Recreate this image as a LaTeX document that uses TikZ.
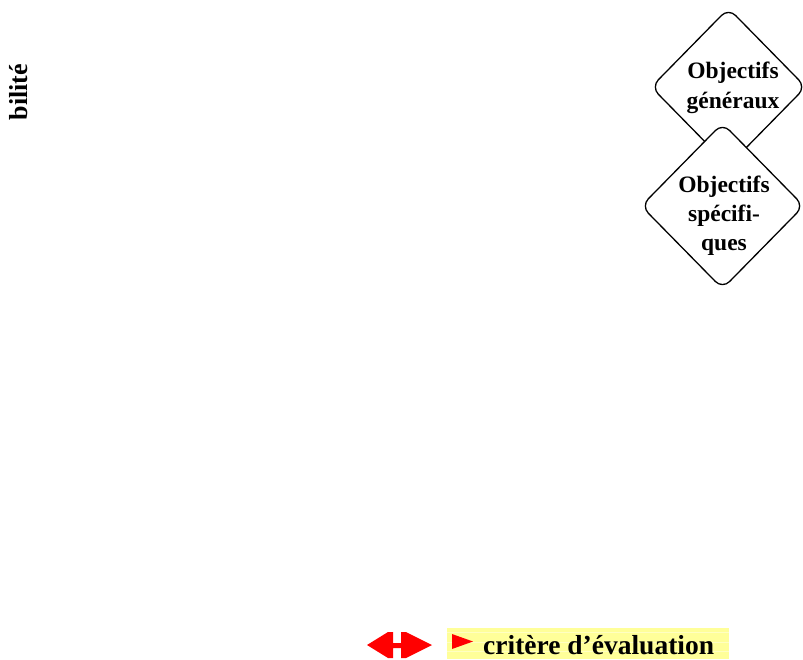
\documentclass[tikz,border=0pt]{standalone}
\usepackage{fontspec}
\setmainfont{Liberation Serif}
\usetikzlibrary{shapes.geometric}
\definecolor{legbg}{RGB}{255,255,153}

\begin{document}
\begin{tikzpicture}
					[x=1pt, y=-1pt, font=\bfseries\fontsize{23.5}{30}\selectfont,
					obj/.style={diamond, draw, fill=white, line width=1.3pt, rounded corners=10pt, inner sep=0pt},
					objtext/.style={align=center, inner sep=0pt}]
					\useasboundingbox (0,0) rectangle (803,659);
					\node[obj, minimum width=155pt, minimum height=158pt] (gen) at (728.5,87) {};
					\node[objtext] (gentext) at (733,88) {Objectifs\\généraux};
					\node[obj, minimum width=163pt, minimum height=166pt] (spec) at (722.5,206) {};
					\node[objtext, font=\bfseries\fontsize{23.5}{29}\selectfont] (spectext) at (724,216) {Objectifs\\spécifi-\\ques};
					\node[rotate=90, inner sep=0pt, font=\bfseries\fontsize{26}{30}\selectfont] (bil) at (19,92) {bilité};
					\fill[red] (367,645) -- (388,632) -- (393,632) -- (393,643) -- (401,643) -- (401,632) -- (406,632) -- (432,645)
					-- (406,658) -- (401,658) -- (401,648) -- (393,648) -- (393,658) -- (388,658) -- cycle;
					\fill[legbg] (447,628) rectangle (729,659);
					\draw[legbg!60, line width=0.5pt] (447,632) -- (729,632) (447,642) -- (729,642) (447,651) -- (729,651);
					\fill[red] (452,634) -- (473,641.5) -- (452,649) -- cycle;
					\node[anchor=base west, inner sep=0pt, font=\bfseries\fontsize{27.5}{30}\selectfont] (crit) at (483,654) {critère d’évaluation};
				\end{tikzpicture}
\end{document}
